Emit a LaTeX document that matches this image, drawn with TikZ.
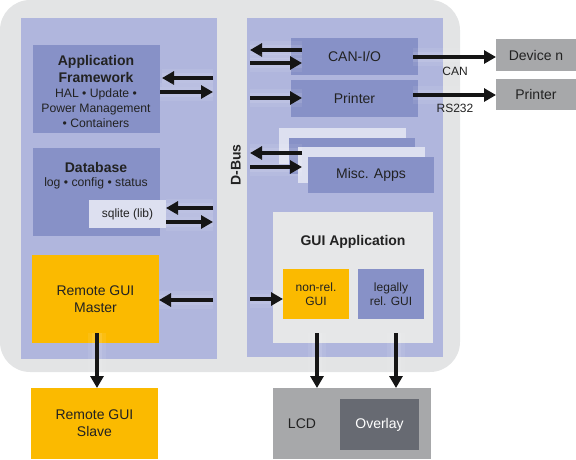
\documentclass[tikz,border=0pt]{standalone}
\usepackage{fontspec}
\setmainfont{Liberation Sans}
\usetikzlibrary{arrows.meta}
\definecolor{outergray}{HTML}{E3E4E5}
\definecolor{panelblue}{HTML}{B0B6DD}
\definecolor{midblue}{HTML}{8791C7}
\definecolor{paleblue}{HTML}{DDE0F0}
\definecolor{amber}{HTML}{FBBA00}
\definecolor{guigray}{HTML}{E6E7E8}
\definecolor{extgray}{HTML}{A7A8AA}
\definecolor{overlaygray}{HTML}{676A72}
\definecolor{ink}{HTML}{222222}
\definecolor{arrink}{HTML}{151515}
\newcommand\bx[7]{\node[box,#6,minimum width={(#4-#2)*1pt},minimum height={(#5-#3)*1pt}] (#1) at ({(#2+#4)/2},{(#3+#5)/2}) {#7};}
\newcommand\arrw[2]{\draw[haloA] #1 -- #2; \draw[haloB] #1 -- #2; \draw[arr] #1 -- #2;}
\begin{document}
\begin{tikzpicture}[x=1pt,y=-1pt,
  box/.style={inner sep=0pt, outer sep=0pt, draw=none, align=center, text=ink},
  tbig/.style={font=\fontsize{14}{16.7}\selectfont},
  tbold/.style={font=\bfseries\fontsize{14}{16.7}\selectfont},
  tmid/.style={font=\fontsize{12.2}{14.8}\selectfont},
  tsmall/.style={font=\fontsize{12}{13.5}\selectfont},
  tlab/.style={font=\fontsize{12}{13}\selectfont, text=ink, inner sep=0pt},
  arr/.style={draw=arrink, line width=4pt, -{Triangle[length=12pt,width=13pt]}},
  haloA/.style={draw=white, line width=18pt, opacity=0.07},
  haloB/.style={draw=white, line width=10pt, opacity=0.10}]
\useasboundingbox (0,0) rectangle (576,459);
% background
\fill[outergray, rounded corners=30pt] (0,0) rectangle (460,372);
\bx{lpanel}{21}{18}{217}{359}{fill=panelblue}{}
\bx{rpanel}{247}{18}{443}{357}{fill=panelblue}{}
\node[tbold, rotate=90, text=ink, inner sep=0pt] (dbus) at (236,165) {D-Bus};
% left column
\bx{af}{33}{45}{160}{133}{fill=midblue}{}
\node[tbold, text=ink, align=center, inner sep=0pt] (aft) at (96,69) {Application\\Framework};
\node[tmid, text=ink, align=center, inner sep=0pt] (afs) at (96,108) {HAL • Update •\\Power Management\\• Containers};
\bx{db}{33}{148}{160}{236}{fill=midblue}{}
\node[tbold, text=ink, inner sep=0pt] (dbt) at (96,167) {Database};
\node[tmid, text=ink, inner sep=0pt] (dbs) at (96,183) {log • config • status};
\bx{sql}{89}{200}{166}{228}{fill=paleblue, tsmall}{sqlite (lib)}
\bx{master}{32}{255}{159}{343}{fill=amber, tbig}{Remote GUI\\Master}
\bx{slave}{31}{388}{158}{459}{fill=amber, tbig}{Remote GUI\\Slave}
% right column
\bx{can}{291}{38}{418}{75}{fill=midblue, tbig}{CAN-I/O}
\bx{prn}{291}{80}{418}{117}{fill=midblue, tbig}{Printer}
\bx{misc1}{279}{128}{406}{164}{fill=paleblue}{}
\bx{misc2}{289}{138}{415}{174}{fill=midblue}{}
\bx{misc3}{298}{147}{425}{183}{fill=paleblue}{}
\bx{misc}{308}{157}{434}{193}{fill=midblue, tbig}{Misc. Apps}
\bx{gui}{273}{212}{433}{343}{fill=guigray}{}
\node[tbold, text=ink, inner sep=0pt] (guit) at (353,242) {GUI Application};
\bx{nonrel}{283}{269}{349}{319}{fill=amber, tsmall}{non-rel.\\GUI}
\bx{legal}{358}{269}{424}{319}{fill=midblue, tsmall}{legally\\rel. GUI}
% external
\bx{dev}{496}{39}{576}{71}{fill=extgray, tbig}{Device n}
\bx{eprn}{496}{79}{576}{110}{fill=extgray, tbig}{Printer}
\bx{lcd}{273}{388}{431}{459}{fill=extgray}{}
\node[tbig, text=ink, inner sep=0pt] (lcdt) at (302,424) {LCD};
\bx{ovl}{340}{399}{419}{450}{fill=overlaygray, tbig, text=white}{Overlay}
% bus and start coordinates
\coordinate (LB) at (213,0);
\coordinate (RB) at (250,0);
\coordinate (RT) at (302,0);
\coordinate (ms) at (97,333);
\coordinate (g1) at (317,333);
\coordinate (g2) at (396,333);
\coordinate (c1) at (413,57);
\coordinate (p1) at (413,95);
% arrows left
\arrw{(LB |- 0,78)}{([xshift=2pt]af.east |- 0,78)}
\arrw{(af.east |- 0,92)}{(LB |- 0,92)}
\arrw{(LB |- 0,208)}{(sql.east |- 0,208)}
\arrw{(sql.east |- 0,222)}{(LB |- 0,222)}
\arrw{(LB |- 0,300)}{(master.east |- 0,300)}
\arrw{(ms)}{(slave.north -| ms)}
% arrows right
\arrw{(RT |- 0,50)}{(RB |- 0,50)}
\arrw{(RB |- 0,63)}{(RT |- 0,63)}
\arrw{(RB |- 0,98)}{(RT |- 0,98)}
\arrw{(RT |- 0,153)}{(RB |- 0,153)}
\arrw{(RB |- 0,167)}{(RT |- 0,167)}
\arrw{(RB |- 0,299)}{(nonrel.west |- 0,299)}
\arrw{(c1)}{(dev.west |- c1)}
\arrw{(p1)}{(eprn.west |- p1)}
\arrw{(g1)}{(lcd.north -| g1)}
\arrw{(g2)}{(lcd.north -| g2)}
\node[tlab] (canl) at (455,71) {CAN};
\node[tlab] (rsl) at (455,108) {RS232};
\end{tikzpicture}
\end{document}
